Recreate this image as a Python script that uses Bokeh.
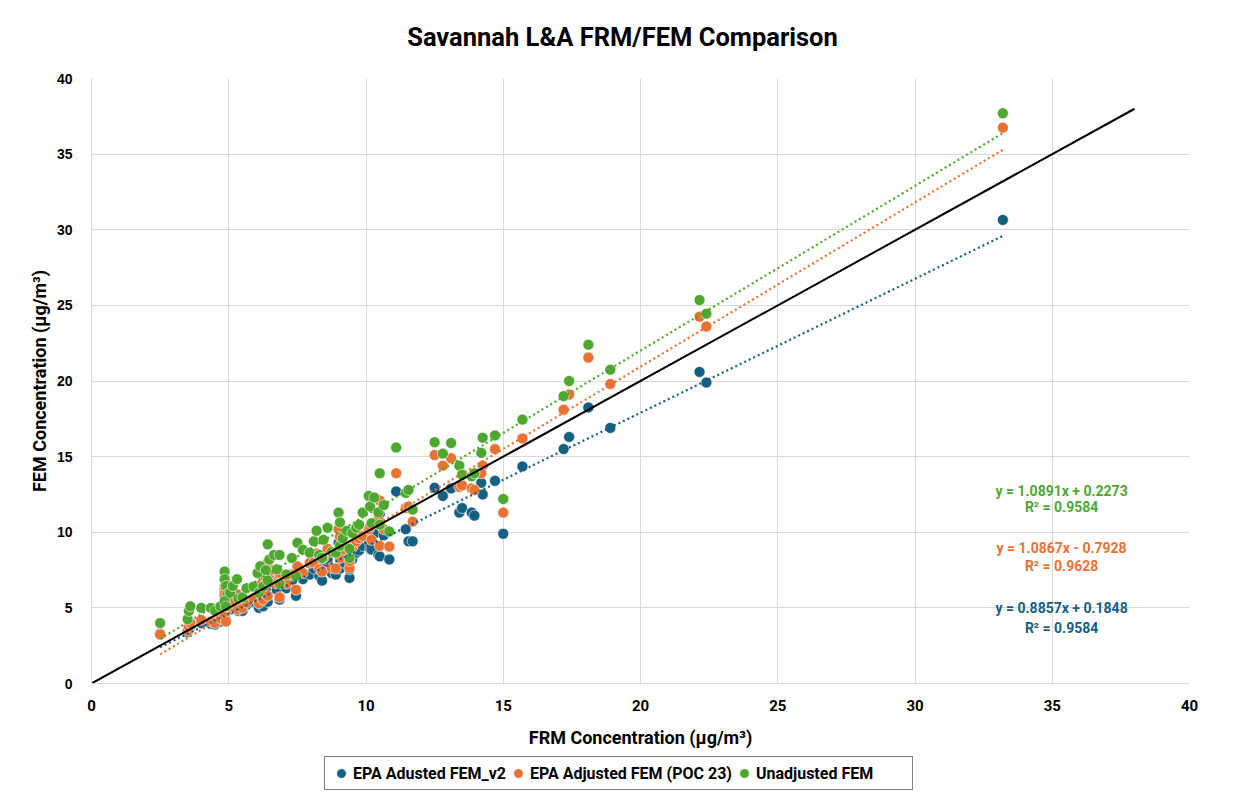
from bokeh.plotting import figure
from bokeh.layouts import column
from bokeh.models import Legend, LegendItem, Label, Range1d, FixedTicker
from bokeh.embed import file_html
from bokeh.resources import INLINE

# ---------------- data ----------------
frm = [2.5, 3.5, 3.55, 3.6, 4.0, 4.35, 4.5, 4.7, 4.85, 4.85, 4.9, 4.95, 4.85, 4.9,
       5.05, 5.15, 5.3, 5.35, 5.5, 5.65, 5.9, 6.05, 6.1, 6.15, 6.25, 6.35, 6.42, 6.42,
       6.48, 6.65, 6.75, 6.85, 6.85, 7.1, 7.3, 7.45, 7.5, 7.7, 7.95, 8.1, 8.2, 8.3,
       8.4, 8.45, 8.6, 8.75, 8.9, 9.0, 9.05, 9.05, 9.15, 9.3, 9.4, 9.4, 9.5, 9.65,
       9.75, 9.88, 10.1, 10.15, 10.2, 10.3, 10.45, 10.5, 10.5, 10.65, 10.85, 11.1,
       11.45, 11.55, 11.7, 12.5, 12.8, 13.1, 13.4, 13.5, 13.85, 13.95, 14.25, 14.2,
       14.7, 15.0, 15.7, 17.2, 17.4, 18.1, 18.9, 22.15, 22.4, 33.2]
fem_v2 = [3.3, 3.4, 3.6, 3.8, 4.0, 3.95, 3.9, 4.1, 6.2, 5.8, 5.4, 5.0, 4.6, 4.2,
          4.9, 5.4, 5.8, 4.8, 4.8, 5.2, 5.4, 5.6, 5.0, 6.1, 5.1, 6.2, 7.6, 5.4,
          6.7, 6.9, 6.2, 6.9, 5.55, 6.3, 6.8, 5.8, 7.2, 6.9, 7.2, 7.6, 8.0, 7.1,
          6.8, 7.8, 8.2, 7.3, 7.2, 9.3, 8.7, 7.6, 8.0, 8.5, 6.98, 7.55, 8.2, 8.65,
          8.8, 9.1, 9.4, 8.9, 8.86, 9.9, 8.5, 11.2, 8.4, 9.8, 8.2, 12.7,
          10.2, 9.4, 9.4, 12.94, 12.4, 12.9, 11.3, 11.6, 11.3, 11.1, 12.5, 13.27,
          13.4, 9.9, 14.35, 15.5, 16.3, 18.25, 16.9, 20.6, 19.9, 30.65]
fem_poc23 = [3.24, 3.5, 3.75, 4.0, 4.2, 4.1, 4.0, 4.3, 6.4, 5.9, 5.45, 4.9, 4.4, 4.1,
             5.1, 5.5, 5.9, 4.9, 5.0, 5.35, 5.65, 6.2, 5.3, 6.5, 5.55, 7.0, 8.0, 5.8,
             7.2, 7.5, 6.6, 7.3, 5.7, 6.6, 7.2, 6.2, 7.75, 7.3, 7.98, 8.0, 8.6, 7.55,
             7.4, 8.3, 8.9, 7.65, 7.6, 10.2, 9.7, 8.3, 8.85, 9.1, 7.65, 8.1, 9.0, 9.4,
             9.6, 9.75, 10.2, 10.4, 9.5, 10.6, 10.85, 12.1, 9.1, 10.2, 9.05, 13.9,
             11.6, 11.7, 10.7, 15.1, 14.4, 14.9, 13.0, 13.1, 12.9, 12.8, 14.4, 13.9,
             15.5, 11.3, 16.2, 18.1, 19.1, 21.55, 19.8, 24.25, 23.6, 36.75]
fem_unadj = [4.0, 4.25, 4.8, 5.1, 5.0, 5.0, 4.8, 5.1, 7.4, 6.9, 6.45, 5.9, 5.45, 5.1,
             6.0, 6.45, 6.9, 5.6, 5.7, 6.3, 6.4, 7.3, 6.0, 7.75, 6.4, 7.5, 9.2, 6.8,
             8.2, 8.5, 7.55, 8.5, 6.6, 7.2, 8.3, 7.1, 9.3, 8.85, 8.65, 9.4, 10.1, 8.5,
             8.3, 9.5, 10.3, 8.7, 8.65, 11.3, 10.65, 9.1, 9.6, 10.1, 8.3, 8.9, 9.95, 10.3,
             10.5, 11.3, 12.4, 11.7, 10.6, 12.3, 11.3, 13.9, 10.5, 11.8, 10.05, 15.6,
             12.6, 12.8, 11.5, 15.95, 15.2, 15.9, 14.4, 13.8, 13.7, 13.9, 16.25, 15.25,
             16.4, 12.2, 17.45, 19.0, 20.0, 22.4, 20.75, 25.35, 24.45, 37.7]

title_text = "Savannah L&A FRM/FEM Comparison"
series_names = ["EPA Adusted FEM_v2", "EPA Adjusted FEM (POC 23)", "Unadjusted FEM"]
series_colors = ["#156082", "#E97132", "#4EA72E"]
trend_slopes = [0.8857, 1.0867, 1.0891]
trend_intercepts = [0.1848, -0.7928, 0.2273]
trend_r2 = [0.9584, 0.9628, 0.9584]
one_to_one = [0, 38]
axis_ticks = [0, 5, 10, 15, 20, 25, 30, 35, 40]

FONT = "Roboto"
W = 1240


def strip(height):
    f = figure(width=W, height=height, output_backend="svg", toolbar_location=None,
               x_range=Range1d(92, 1190), y_range=Range1d(0, height),
               x_axis_type=None, y_axis_type=None,
               min_border_left=0, min_border_right=0, min_border_top=0,
               min_border_bottom=0)
    f.outline_line_color = None
    f.xgrid.visible = False
    f.ygrid.visible = False
    f.border_fill_color = "white"
    f.background_fill_color = "white"
    return f


# ---------------- title strip ----------------
TH = 68
ts = strip(TH)
ts.add_layout(Label(x=623, y=TH - 36, text=title_text, text_align="center",
                    text_baseline="middle", text_font=FONT, text_font_style="bold",
                    text_font_size="25.5px", text_color="#000000"))

# ---------------- main chart ----------------
p = figure(width=W, height=687, output_backend="svg", toolbar_location=None,
           x_range=Range1d(0, 40), y_range=Range1d(0, 40),
           min_border_left=91, min_border_right=51, min_border_top=10,
           min_border_bottom=72)
p.outline_line_color = None
p.background_fill_color = "white"
p.border_fill_color = "white"

for ax in (p.xaxis[0], p.yaxis[0]):
    ax.ticker = FixedTicker(ticks=axis_ticks)
    ax.major_tick_line_color = None
    ax.minor_tick_line_color = None
    ax.axis_line_color = "#d9d9d9"
    ax.major_label_text_font_style = "bold"
    ax.major_label_text_color = "#000000"
    ax.axis_label_text_font_style = "bold"
    ax.axis_label_text_color = "#000000"
    ax.axis_label_text_font = FONT

p.xaxis.axis_label = "FRM Concentration (µg/m³)"
p.yaxis.axis_label = "FEM Concentration (µg/m³)"
p.xaxis.major_label_text_font = FONT
p.xaxis.major_label_text_font_size = "15px"
p.xaxis.major_label_standoff = 10
p.xaxis.axis_label_text_font_size = "18px"
p.xaxis.axis_label_standoff = 13
p.yaxis.major_label_text_font = "Liberation Sans"
p.yaxis.major_label_text_font_size = "14px"
p.yaxis.major_label_standoff = 13
p.yaxis.axis_label_text_font_size = "18px"
p.yaxis.axis_label_standoff = 4

p.xgrid.grid_line_color = "#d9d9d9"
p.ygrid.grid_line_color = "#d9d9d9"

all_y = [fem_v2, fem_poc23, fem_unadj]
for ys, col in zip(all_y, series_colors):
    p.scatter(frm, ys, size=11, marker="circle", fill_color=col,
              line_color="white", line_width=0.6)

xmin, xmax = min(frm), max(frm)
for a, b, col in zip(trend_slopes, trend_intercepts, series_colors):
    p.line([xmin, xmax], [a * xmin + b, a * xmax + b], line_color=col,
           line_width=2.2, line_dash="2 3")

p.line(one_to_one, one_to_one, line_color="black", line_width=2)

eq_y = [(5.02, 3.70), (8.93, 7.80), (12.76, 11.64)]
for a, b, r2, col, (y1, y2) in zip(trend_slopes, trend_intercepts, trend_r2,
                                   series_colors, eq_y):
    sign = "+" if b >= 0 else "-"
    txt1 = f"y = {a:.4f}x {sign} {abs(b):.4f}"
    txt2 = f"R² = {r2:.4f}"
    for t, yy in ((txt1, y1), (txt2, y2)):
        p.add_layout(Label(x=35.34, y=yy, text=t, text_align="center",
                           text_baseline="middle", text_font=FONT,
                           text_font_style="bold", text_font_size="14px",
                           text_color=col))

# ---------------- legend strip ----------------
lg = strip(41)
items = []
for name, col in zip(series_names, series_colors):
    r = lg.scatter([0], [-100], size=10, marker="circle", fill_color=col,
                   line_color="white", line_width=0.6)
    items.append(LegendItem(label=name, renderers=[r]))

legend = Legend(items=items, orientation="horizontal", location=(233, 6),
                glyph_width=24, glyph_height=24, label_standoff=0, spacing=0,
                padding=4, margin=0, label_width=152, label_height=15,
                label_text_font=FONT, label_text_font_style="bold",
                label_text_font_size="16px", label_text_color="#000000",
                border_line_color="#000000", border_line_width=1,
                background_fill_color="white", background_fill_alpha=1)
lg.add_layout(legend, "center")

layout = column(ts, p, lg, spacing=0)
open("out.html", "w").write(file_html(layout, INLINE))
